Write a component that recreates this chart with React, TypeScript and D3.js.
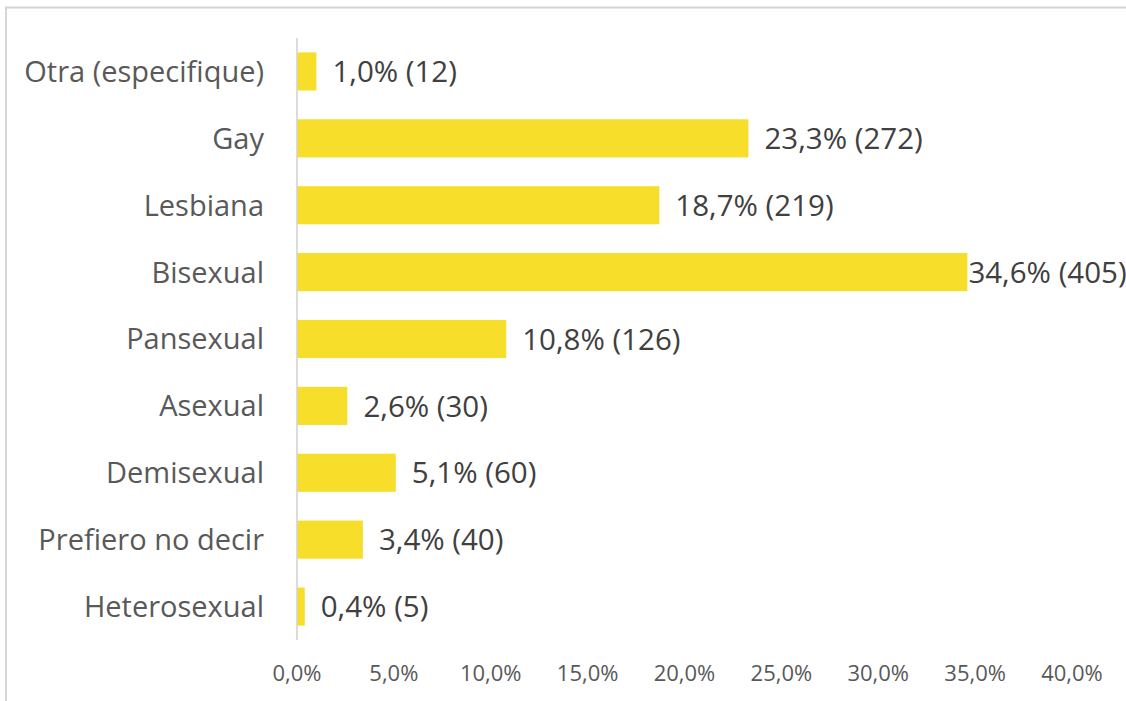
import React, { useEffect, useRef } from "react";
import * as d3 from "d3";

const categories = [
  "Otra (especifique)",
  "Gay",
  "Lesbiana",
  "Bisexual",
  "Pansexual",
  "Asexual",
  "Demisexual",
  "Prefiero no decir",
  "Heterosexual",
];
const percents = [1.0, 23.3, 18.7, 34.6, 10.8, 2.6, 5.1, 3.4, 0.4];
const counts = [12, 272, 219, 405, 126, 30, 60, 40, 5];
const ticks = [0, 5, 10, 15, 20, 25, 30, 35, 40];

const W = 1126;
const H = 701;
const FONT = "'Open Sans', sans-serif";

export default function App() {
  const ref = useRef<SVGSVGElement>(null);

  useEffect(() => {
    const svg = d3.select(ref.current);
    svg.selectAll("*").remove();

    const x = d3.scaleLinear().domain([0, 40]).range([297, 1072]);
    const y = d3.scaleBand<string>().domain(categories).range([38, 640]).paddingInner(0.43).paddingOuter(0.215);

    svg
      .append("rect")
      .attr("x", 6)
      .attr("y", 7.5)
      .attr("width", W + 20)
      .attr("height", H + 20)
      .attr("fill", "none")
      .attr("stroke", "#d6d6d6")
      .attr("stroke-width", 2);

    const data = categories.map((c, i) => ({ c, p: percents[i], n: counts[i] }));

    svg
      .append("g")
      .selectAll("rect")
      .data(data)
      .join("rect")
      .attr("x", x(0))
      .attr("y", (d) => y(d.c)!)
      .attr("width", (d) => x(d.p) - x(0))
      .attr("height", y.bandwidth())
      .attr("fill", "#F6DE2A");

    svg
      .append("line")
      .attr("x1", x(0))
      .attr("x2", x(0))
      .attr("y1", y.range()[0])
      .attr("y2", y.range()[1])
      .attr("stroke", "#d0d0d0")
      .attr("stroke-width", 1.5);

    svg
      .append("g")
      .selectAll("text")
      .data(data)
      .join("text")
      .attr("x", x(0) - 33)
      .attr("y", (d) => y(d.c)! + y.bandwidth() / 2)
      .attr("dy", "0.36em")
      .attr("text-anchor", "end")
      .attr("font-family", FONT)
      .attr("font-size", 29)
      .attr("fill", "#595959")
      .text((d) => d.c);

    const fmt = (v: number) => v.toFixed(1).replace(".", ",");
    const labels = svg
      .append("g")
      .selectAll("text")
      .data(data)
      .join("text")
      .attr("x", (d) => x(d.p) + 16)
      .attr("y", (d) => y(d.c)! + y.bandwidth() / 2)
      .attr("dy", "0.36em")
      .attr("font-family", FONT)
      .attr("font-size", 29.5)
      .attr("fill", "#404040")
      .text((d) => `${fmt(d.p)}% (${d.n})`);

    labels.each(function (d) {
      const el = this as SVGTextElement;
      const w = el.getComputedTextLength();
      const limit = W - 1;
      if (x(d.p) + 16 + w > limit) {
        d3.select(el).attr("x", Math.max(x(d.p) + 1, limit - w));
      }
    });

    svg
      .append("g")
      .selectAll("text")
      .data(ticks)
      .join("text")
      .attr("x", (d) => x(d))
      .attr("y", 673)
      .attr("dy", "0.36em")
      .attr("text-anchor", "middle")
      .attr("font-family", FONT)
      .attr("font-size", 22)
      .attr("fill", "#595959")
      .text((d) => `${fmt(d)}%`);
  }, []);

  return (
    <svg
      ref={ref}
      width={W}
      height={H}
      style={{ position: "absolute", left: 0, top: 0, background: "#fff" }}
    />
  );
}
